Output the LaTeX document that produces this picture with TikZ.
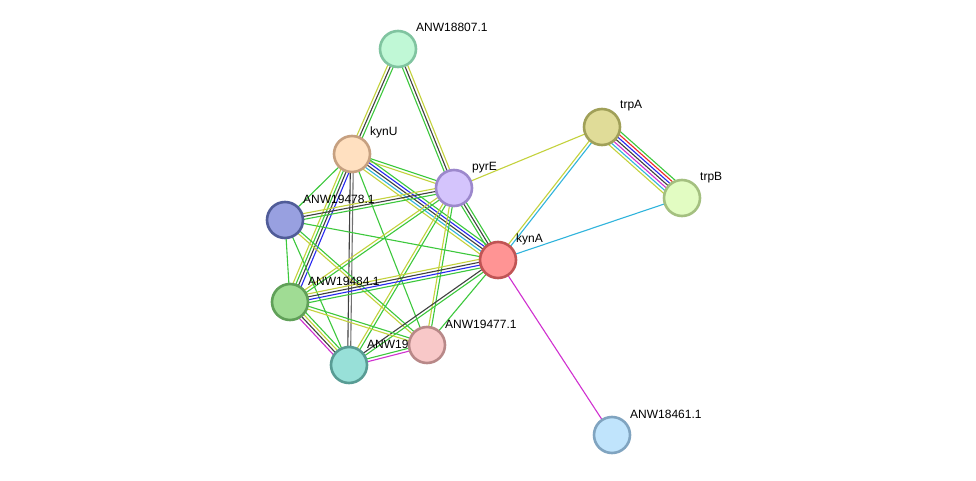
\documentclass[tikz,border=0pt]{standalone}
\usepackage{fontspec}
\setmainfont{Liberation Sans}
\usetikzlibrary{calc}
\pgfdeclarelayer{background}
\pgfsetlayers{background,main}
\definecolor{sgreen}{HTML}{3CC83C}
\definecolor{syellow}{HTML}{C4D23C}
\definecolor{sblack}{HTML}{404040}
\definecolor{sgrey}{HTML}{707070}
\definecolor{sblue}{HTML}{2828F0}
\definecolor{scyan}{HTML}{30B4DC}
\definecolor{smagenta}{HTML}{D030D0}
\definecolor{sred}{HTML}{F02828}
\tikzset{
  prot/.style={circle, minimum size=36pt, inner sep=0pt, line width=2.6pt},
  lbl/.style={anchor=base west, inner sep=0pt, font=\fontsize{12pt}{14pt}\selectfont},
  edgeline/.style={line width=1.1pt},
}
\newcommand\sedge[4]{%
  \foreach \c [count=\i] in {#4}{%
    \pgfmathsetmacro\off{(\i-(#3+1)/2)*2.9}%
    \draw[\c,edgeline] ($(#1.center)!\off pt!90:(#2.center)$) -- ($(#2.center)!\off pt!-90:(#1.center)$);
  }%
}
\begin{document}
\begin{tikzpicture}[x=1pt,y=-1pt]
\useasboundingbox (0,0) rectangle (976,481);
% labels
\node[lbl] (l18807) at (416,32) {ANW18807.1};
\node[lbl] (lkynU) at (370,136) {kynU};
\node[lbl] (lpyrE) at (472,171) {pyrE};
\node[lbl] (l19478) at (303,203) {ANW19478.1};
\node[lbl] (lkynA) at (516,242) {kynA};
\node[lbl] (l19484) at (308,285) {ANW19484.1};
\node[lbl] (l19477) at (445,328) {ANW19477.1};
\node[lbl] (l19b) at (367,348) {ANW19};
\node[lbl] (ltrpA) at (620,109) {trpA};
\node[lbl] (ltrpB) at (700,181) {trpB};
\node[lbl] (l18461) at (630,418) {ANW18461.1};
% nodes
\node[prot, fill={rgb,255:red,192;green,248;blue,214}, draw={rgb,255:red,128;green,196;blue,160}] (n18807) at (398,49) {};
\node[prot, fill={rgb,255:red,255;green,224;blue,192}, draw={rgb,255:red,198;green,160;blue,128}] (kynU) at (352,154) {};
\node[prot, fill={rgb,255:red,212;green,196;blue,252}, draw={rgb,255:red,156;green,136;blue,204}] (pyrE) at (454,188) {};
\node[prot, fill={rgb,255:red,152;green,160;blue,224}, draw={rgb,255:red,80;green,92;blue,152}] (n19478) at (285,220) {};
\node[prot, fill={rgb,255:red,255;green,148;blue,148}, draw={rgb,255:red,192;green,84;blue,84}] (kynA) at (498,260) {};
\node[prot, fill={rgb,255:red,160;green,220;blue,148}, draw={rgb,255:red,96;green,160;blue,88}] (n19484) at (290,302) {};
\node[prot, fill={rgb,255:red,152;green,224;blue,216}, draw={rgb,255:red,88;green,156;blue,148}] (n19b) at (349,365) {};
\node[prot, fill={rgb,255:red,248;green,200;blue,200}, draw={rgb,255:red,184;green,136;blue,136}] (n19477) at (427,345) {};
\node[prot, fill={rgb,255:red,224;green,220;blue,152}, draw={rgb,255:red,160;green,160;blue,88}] (trpA) at (602,127) {};
\node[prot, fill={rgb,255:red,226;green,252;blue,194}, draw={rgb,255:red,164;green,192;blue,128}] (trpB) at (682,198) {};
\node[prot, fill={rgb,255:red,192;green,228;blue,252}, draw={rgb,255:red,128;green,164;blue,192}] (n18461) at (612,435) {};
% edges
\begin{pgfonlayer}{background}
\fill[white] (0,0) rectangle (976,481);
\sedge{n18807}{kynU}{3}{syellow,sblack,sgreen}
\sedge{n18807}{pyrE}{3}{sgreen,sblack,syellow}
\sedge{kynU}{pyrE}{2}{syellow,sgreen}
\sedge{kynU}{kynA}{5}{syellow,scyan,sblack,sblue,sgreen}
\sedge{kynU}{n19478}{1}{sgreen}
\sedge{kynU}{n19484}{4}{syellow,sgreen,sblack,sblue}
\sedge{kynU}{n19b}{2}{sblack,sgrey}
\sedge{kynU}{n19477}{1}{sgreen}
\sedge{pyrE}{n19478}{3}{syellow,sblack,sgreen}
\sedge{pyrE}{kynA}{3}{sgreen,sblack,sgreen}
\sedge{pyrE}{n19484}{2}{syellow,sgreen}
\sedge{pyrE}{n19b}{2}{syellow,sgreen}
\sedge{pyrE}{n19477}{2}{syellow,sgreen}
\sedge{pyrE}{trpA}{1}{syellow}
\sedge{n19478}{kynA}{1}{sgreen}
\sedge{n19478}{n19484}{1}{sgreen}
\sedge{n19478}{n19b}{1}{sgreen}
\sedge{n19478}{n19477}{2}{syellow,sgreen}
\sedge{kynA}{n19484}{4}{syellow,sblack,sblue,sgreen}
\sedge{kynA}{n19b}{2}{sblack,sgreen}
\sedge{kynA}{n19477}{1}{sgreen}
\sedge{kynA}{trpA}{2}{scyan,syellow}
\sedge{kynA}{trpB}{1}{scyan}
\sedge{kynA}{n18461}{1}{smagenta}
\sedge{n19484}{n19b}{4}{smagenta,sblack,syellow,sgreen}
\sedge{n19484}{n19477}{2}{syellow,sgreen}
\sedge{n19b}{n19477}{2}{smagenta,sgreen}
\sedge{trpA}{trpB}{7}{syellow,scyan,smagenta,sblack,sblue,sred,sgreen}
\end{pgfonlayer}
\end{tikzpicture}
\end{document}
